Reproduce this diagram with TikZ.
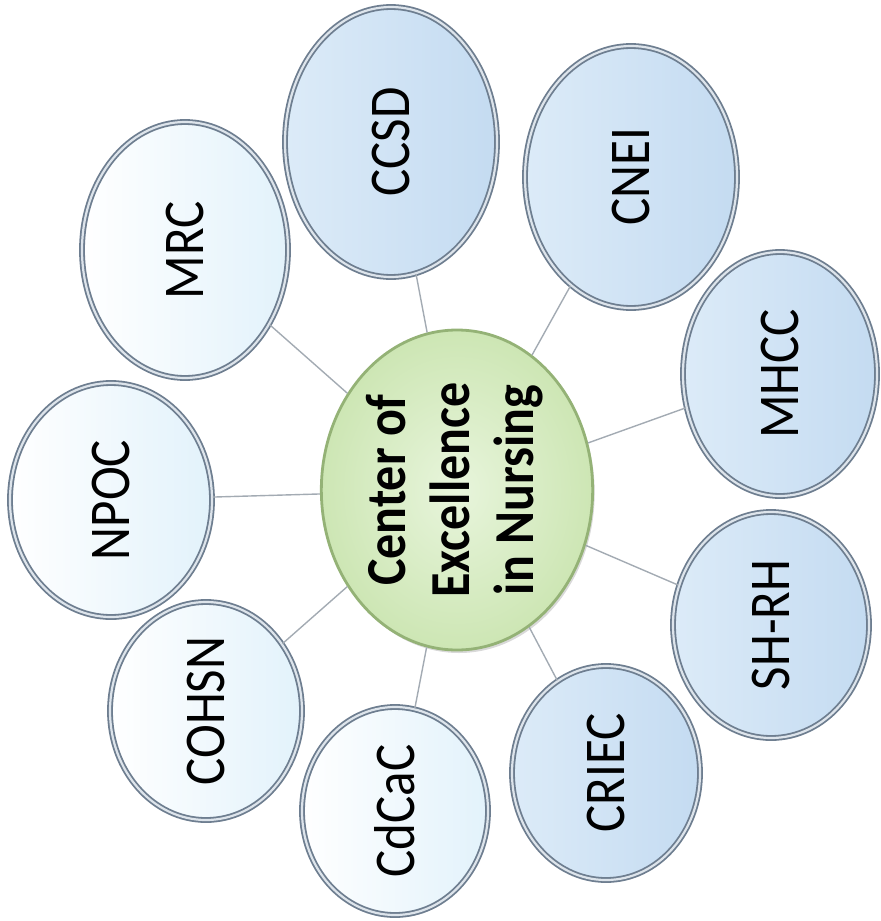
\documentclass[tikz,border=0pt]{standalone}
\usepackage{graphicx}
\usepackage{fontspec}
\setmainfont{Carlito}
\usetikzlibrary{shapes.geometric,shadows}
\definecolor{bordc}{HTML}{6E7E90}
\definecolor{bordlight}{HTML}{DDE4EB}
\definecolor{blueL}{HTML}{DCEBF8}
\definecolor{blueR}{HTML}{C4DBF1}
\definecolor{whiteR}{HTML}{E2F2FB}
\definecolor{greenIn}{HTML}{E8F5DC}
\definecolor{greenOut}{HTML}{CDE6B4}
\definecolor{greenB}{HTML}{94B276}
\definecolor{conncol}{HTML}{A3ABB3}
\tikzset{
  bubble/.style={ellipse, inner sep=0pt, draw=bordc, line width=0.9pt,
    double=bordlight, double distance=1.1pt,
    drop shadow={opacity=0.3, shadow xshift=0.5pt, shadow yshift=-1.2pt}},
  bluebub/.style={bubble, left color=blueL, right color=blueR},
  whitebub/.style={bubble, left color=white, right color=whiteR},
  hub/.style={ellipse, inner sep=0pt, draw=greenB, line width=1.4pt,
    inner color=greenIn, outer color=greenOut,
    drop shadow={opacity=0.3, shadow xshift=1pt, shadow yshift=-1.5pt}},
  conn/.style={draw=conncol, line width=0.7pt},
}
\newcommand{\lbl}[1]{\rotatebox{90}{\scalebox{1}[1.13]{\fontsize{25.5}{28}\selectfont #1}}}
\begin{document}
\begin{tikzpicture}[x=0.5pt,y=-0.5pt]
\useasboundingbox (0,0) rectangle (881,921);
% outer bubbles
\node[whitebub, minimum width=103pt, minimum height=128pt] (mrc) at (185,250) {\lbl{MRC}};
\node[bluebub, minimum width=106pt, minimum height=135pt] (ccsd) at (391,142) {\lbl{CCSD}};
\node[bluebub, minimum width=106pt, minimum height=131pt] (cnei) at (631,177) {\lbl{CNEI}};
\node[bluebub, minimum width=97pt, minimum height=122pt] (mhcc) at (780,374) {\lbl{MHCC}};
\node[bluebub, minimum width=98pt, minimum height=113pt] (shrh) at (771,625) {\lbl{SH-RH}};
\node[bluebub, minimum width=94pt, minimum height=107pt] (criec) at (606,773) {\lbl{CRIEC}};
\node[whitebub, minimum width=93pt, minimum height=104pt] (cdcac) at (395,811) {\lbl{CdCaC}};
\node[whitebub, minimum width=101pt, minimum height=117pt] (npoc) at (111,500) {\lbl{NPOC}};
\node[whitebub, minimum width=96pt, minimum height=109pt] (cohsn) at (206,711) {\lbl{COHSN}};
% hub
\node[hub, minimum width=130pt, minimum height=160pt] (c) at (457,490)
  {\rotatebox{90}{\scalebox{1}[1.13]{\fontsize{25}{28.3}\selectfont\bfseries
   \begin{tabular}{@{}c@{}}Center of\\Excellence\\in Nursing\end{tabular}}}};
% connectors
\foreach \n in {mrc,ccsd,cnei,mhcc,shrh,criec,cdcac,cohsn,npoc}
  \draw[conn] (c) -- (\n);
\end{tikzpicture}
\end{document}
